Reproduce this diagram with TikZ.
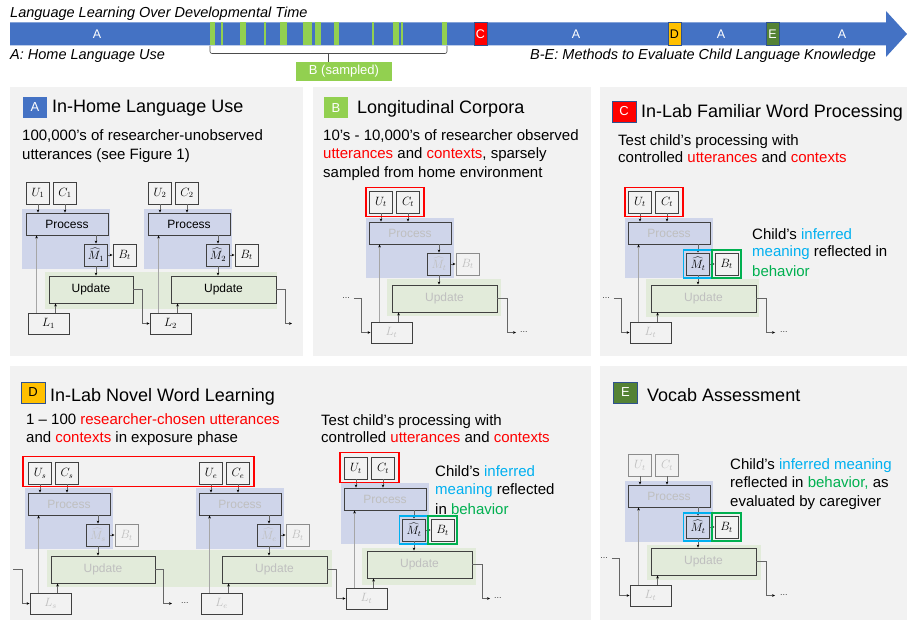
\documentclass[tikz,border=0pt]{standalone}
\usepackage{fontspec}
\setmainfont{Liberation Sans}
\usetikzlibrary{arrows.meta}
\definecolor{barblue}{HTML}{4472C4}
\definecolor{lgreen}{HTML}{92D050}
\definecolor{dgreen}{HTML}{548235}
\definecolor{orng}{HTML}{FFC000}
\definecolor{panel}{HTML}{F2F2F2}
\definecolor{bluereg}{HTML}{CFD5EA}
\definecolor{greenreg}{HTML}{E2EBDA}
\definecolor{bdr}{HTML}{404040}
\definecolor{fadet}{HTML}{BFBFBF}
\definecolor{fadeb}{HTML}{8C8C8C}
\definecolor{cyanc}{HTML}{00B0F0}
\definecolor{greent}{HTML}{00B050}
\definecolor{redc}{HTML}{FF0000}
\definecolor{badgebdr}{HTML}{2F528F}
\newcommand\core[4]{%
\begin{scope}[shift={#2}]
\node[sbox,ucs] (#1U) at (12,11) {$U_{#3}$};
\node[sbox,ucs] (#1C) at (39,11) {$C_{#3}$};
\node[pbox,ps] (#1P) at (41,42) {Process};
\node[sbox,fill=bluereg,ms] (#1M) at (70,73) {$\widehat{M}_{#3}$};
\node[sbox,bs] (#1B) at (98.5,73) {$B_t$};
\node[ubox,us,#4] (#1Up) at (75.5,107.5) {Update};
\node[lbox,ls] (#1L) at (22.5,141.5) {$L_{#3}$};
\end{scope}
\draw[arr] (#1U) -- (#1U |- #1P.north);
\draw[arr] (#1C) -- (#1C |- #1P.north);
\draw[arr] (#1M |- #1P.south) -- (#1M);
\draw[arr] (#1M) -- (#1B);
\draw[arr] (#1M) -- (#1M |- #1Up.north);
\path ([xshift=9pt]#1L.north west) coordinate (#1la);
\path ([xshift=28pt]#1L.north west) coordinate (#1lb);
\draw[arrl] (#1la) -- (#1la |- #1P.south);
\draw[arr] (#1lb) -- (#1lb |- #1Up.south);
}
\newcommand\presetdark{\tikzset{ucs/.style={},ps/.style={},ms/.style={},bs/.style={},us/.style={},ls/.style={}}}
\newcommand\presetfade{\tikzset{ucs/.style={},ps/.style={text=fadet},ms/.style={text=fadet},bs/.style={text=fadet,draw=fadeb},us/.style={text=fadet},ls/.style={text=fadet}}}
\newcommand\presettest{\tikzset{ucs/.style={},ps/.style={text=fadet},ms/.style={},bs/.style={},us/.style={text=fadet},ls/.style={text=fadet}}}
\newcommand\presetvocab{\tikzset{ucs/.style={text=fadet,draw=fadeb},ps/.style={text=fadet},ms/.style={},bs/.style={},us/.style={text=fadet},ls/.style={text=fadet}}}
\begin{document}
\begin{tikzpicture}[x=1pt,y=-1pt,
  sbox/.style={draw=bdr,line width=0.9pt,minimum width=23pt,minimum height=22pt,inner sep=0pt,font=\fontsize{12}{14}\selectfont},
  pbox/.style={draw=bdr,line width=0.9pt,fill=bluereg,minimum width=82pt,minimum height=22pt,inner sep=0pt,font=\fontsize{12}{14}\selectfont},
  ubox/.style={draw=bdr,line width=0.9pt,fill=greenreg,minimum width=105pt,minimum height=27pt,inner sep=0pt,font=\fontsize{12}{14}\selectfont},
  lbox/.style={draw=bdr,line width=0.9pt,minimum width=41pt,minimum height=21pt,inner sep=0pt,font=\fontsize{12}{14}\selectfont},
  arr/.style={draw=black!60,line width=0.5pt,-{Stealth[length=3pt,width=2.6pt,black]}},
  arrl/.style={arr,draw=black!35},
  badge/.style={minimum width=24pt,minimum height=21pt,inner sep=0pt,font=\fontsize{13}{15}\selectfont},
  ttl/.style={anchor=base west,inner sep=0pt,font=\fontsize{18}{21}\selectfont},
  body/.style={anchor=base west,inner sep=0pt,font=\fontsize{15}{18}\selectfont},
  toptxt/.style={anchor=base west,inner sep=0pt,font=\fontsize{14.5}{16}\selectfont\itshape},
  barlbl/.style={inner sep=0pt,text=white,font=\fontsize{12.5}{14}\selectfont},
  stripe/.style={fill=lgreen},
  dots/.style={inner sep=0pt,font=\fontsize{9}{10}\selectfont,text=black!75},
  redo/.style={draw=redc,line width=1.2pt},
  cyo/.style={draw=cyanc,line width=1.3pt},
  gro/.style={draw=greent,line width=1.3pt}]
\useasboundingbox (0,0) rectangle (907,620);
\clip (0,0) rectangle (907,620);
\fill[white] (0,0) rectangle (907,620);
% ---------- timeline ----------
\node[toptxt] (ttitle) at (10,17.3) {Language Learning Over Developmental Time};
\fill[barblue] (10,22.5) -- (886,22.5) -- (886,11) -- (907,34) -- (886,57) -- (886,45.5) -- (10,45.5) -- cycle;
\foreach \a/\b in {210/215,221/223,240/246,264/266,280/287,303/312,315/321,334/339,372/374,393/399,401/403,442/447}
  \fill[stripe] (\a,22.5) rectangle (\b,45.5);
\node[draw=badgebdr,line width=0.4pt,fill=redc,minimum width=13pt,minimum height=23pt,inner sep=0pt,text=white,font=\fontsize{12.5}{14}\selectfont] (tC) at (480.5,34) {C};
\node[draw=badgebdr,line width=0.4pt,fill=orng,minimum width=13pt,minimum height=23pt,inner sep=0pt,font=\fontsize{12.5}{14}\selectfont] (tD) at (674.5,34) {D};
\node[draw=badgebdr,line width=0.4pt,fill=dgreen,minimum width=13pt,minimum height=23pt,inner sep=0pt,text=white,font=\fontsize{12.5}{14}\selectfont] (tE) at (772.5,34) {E};
\node[barlbl] (tA1) at (97,34) {A};
\node[barlbl] (tA2) at (576,34) {A};
\node[barlbl] (tA3) at (721,34) {A};
\node[barlbl] (tA4) at (842,34) {A};
\node[toptxt] (tAl) at (10,60) {A: Home Language Use};
\node[toptxt] (tBE) at (530,60) {B-E: Methods to Evaluate Child Language Knowledge};
\node[fill=lgreen,minimum width=96pt,minimum height=19pt,inner sep=0pt,text=white,font=\fontsize{13}{15}\selectfont] (bsamp) at (344,71.5) {B (sampled)};
\draw[black!70,line width=0.6pt,rounded corners=2pt] (210,46) -- (210,53.5) -- (447,53.5) -- (447,46);
\coordinate (brmid) at (328,53.5);
\draw[black!70,line width=0.6pt] (brmid) -- (brmid |- bsamp.north);
% ---------- panels ----------
\fill[panel] (10,87) rectangle (303,356);
\fill[panel] (313,87) rectangle (591,356);
\fill[panel] (600,87) rectangle (907,356);
\fill[panel] (10,366) rectangle (591,620);
\fill[panel] (600,366) rectangle (907,620);
% ---------- regions ----------
\fill[bluereg] (22,209) rectangle (110,269);
\fill[bluereg] (144,209) rectangle (232,269);
\fill[greenreg] (45,272) rectangle (277,309);
\fill[bluereg] (366,218) rectangle (454,278);
\fill[greenreg] (387,279) rectangle (501,316);
\fill[bluereg] (625,218) rectangle (713,278);
\fill[greenreg] (646,279) rectangle (759,317);
\fill[bluereg] (25,488) rectangle (113,549);
\fill[bluereg] (196,488) rectangle (284,549);
\fill[greenreg] (47,550) rectangle (332,587);
\fill[bluereg] (341,483) rectangle (429,544);
\fill[greenreg] (362,548) rectangle (476,585);
\fill[bluereg] (625,481) rectangle (713,542);
\fill[greenreg] (647,545) rectangle (761,580);
% ---------- panel A ----------
\node[badge,fill=barblue,text=white] (aBadge) at (35,107.5) {A};
\node[ttl] (aTitle) at (52,112.5) {In-Home Language Use};
\node[body] (aT1) at (22,141) {100,000’s of researcher-unobserved};
\node[body] (aT2) at (22,160) {utterances (see Figure 1)};
\presetdark
\core{a1}{(26,182)}{1}{minimum width=84pt,xshift=-10.5pt}
\core{a2}{(148,182)}{2}{}
\draw[arr] (a1Up.east) -- ++(9,0) |- (a2L.west);
\coordinate (a2out) at (292,323.5);
\draw[arr] (a2Up.east) -- ++(9,0) |- (a2out);
% ---------- panel B ----------
\node[badge,fill=lgreen,text=white] (bBadge) at (336,108) {B};
\node[ttl] (bTitle) at (357,114) {Longitudinal Corpora};
\node[body] (bT1) at (323,141) {10’s - 10,000’s of researcher observed};
\node[body] (bT2) at (323,158.5) {\textcolor{redc}{utterances} and \textcolor{redc}{contexts}, sparsely};
\node[body] (bT3) at (323,177.5) {sampled from home environment};
\presetfade
\core{b}{(369,191)}{t}{}
\draw[redo] ([shift={(-3pt,3pt)}]bU.north west) rectangle ([shift={(4pt,-3pt)}]bC.south east);
\node[dots] (bdin) at (346,298) {...};
\draw[arr] ([xshift=4pt]bdin.east) -- ++(7,0) |- (bL.west);
\coordinate (bout) at (516,332.5);
\draw[arr] (bUp.east) -- ++(10,0) |- (bout);
\node[dots,anchor=west] (bdout) at (520,332.5) {...};
% ---------- panel C ----------
\node[badge,fill=redc,text=white,draw=badgebdr,line width=0.6pt] (cBadge) at (624,111.5) {C};
\node[ttl] (cTitle) at (641,118) {In-Lab Familiar Word Processing};
\node[body] (cT1) at (618,145.5) {Test child’s processing with};
\node[body] (cT2) at (618,163) {controlled \textcolor{redc}{utterances} and \textcolor{redc}{contexts}};
\presettest
\core{c}{(628,191)}{t}{}
\draw[redo] ([shift={(-3pt,3pt)}]cU.north west) rectangle ([shift={(4pt,-3pt)}]cC.south east);
\draw[cyo] ([shift={(-2.5pt,2.5pt)}]cM.north west) rectangle ([shift={(2.5pt,-2.5pt)}]cM.south east);
\draw[gro] ([shift={(-2.5pt,2.5pt)}]cB.north west) rectangle ([shift={(2.5pt,-2.5pt)}]cB.south east);
\node[body] (cS1) at (752,240) {Child’s \textcolor{cyanc}{inferred}};
\node[body] (cS2) at (752,257) {\textcolor{cyanc}{meaning} reflected in};
\node[body] (cS3) at (752,276.5) {\textcolor{greent}{behavior}};
\node[dots] (cdin) at (606,298) {...};
\draw[arr] ([xshift=4pt]cdin.east) -- ++(7,0) |- (cL.west);
\coordinate (cout) at (775,332.5);
\draw[arr] (cUp.east) -- ++(10,0) |- (cout);
\node[dots,anchor=west] (cdout) at (780,332.5) {...};
% ---------- panel D ----------
\node[badge,fill=orng,draw=badgebdr,line width=0.6pt] (dBadge) at (33,392.5) {D};
\node[ttl] (dTitle) at (50,401.5) {In-Lab Novel Word Learning};
\node[body] (dT1) at (26,424.3) {1 – 100 \textcolor{redc}{researcher-chosen utterances}};
\node[body] (dT2) at (26,442.5) {and \textcolor{redc}{contexts} in exposure phase};
\presetfade
\core{d1}{(28,462)}{s}{minimum width=104pt,xshift=-0.5pt}
\core{d2}{(199,462)}{e}{}
\draw[redo] ([shift={(-5pt,5pt)}]d1U.north west) rectangle ([shift={(4pt,-2pt)}]d2C.south east);
\coordinate (dIn) at (13,569.5);
\draw[arr] (dIn) -- ++(9,0) |- (d1L.west);
\coordinate (d1out) at (172,603.5);
\draw[arr] (d1Up.east) -- ++(8,0) |- (d1out);
\node[dots,anchor=west] (d1dout) at (181,603.5) {...};
\node[body] (dtT1) at (321,425) {Test child’s processing with};
\node[body] (dtT2) at (321,442.5) {controlled \textcolor{redc}{utterances} and \textcolor{redc}{contexts}};
\presettest
\core{dt}{(344,457)}{t}{}
\draw[arr] (d2Up.east) -- ++(9,0) |- (dtL.west);
\draw[redo] ([shift={(-4pt,4pt)}]dtU.north west) rectangle ([shift={(4pt,-3pt)}]dtC.south east);
\draw[cyo] ([shift={(-2.5pt,2.5pt)}]dtM.north west) rectangle ([shift={(2.5pt,-2.5pt)}]dtM.south east);
\draw[gro] ([shift={(-2.5pt,2.5pt)}]dtB.north west) rectangle ([shift={(2.5pt,-2.5pt)}]dtB.south east);
\node[body] (dtS1) at (435,476) {Child’s \textcolor{cyanc}{inferred}};
\node[body] (dtS2) at (435,494) {\textcolor{cyanc}{meaning} reflected};
\node[body] (dtS3) at (435,514) {in \textcolor{greent}{behavior}};
\coordinate (dtout) at (490,598.5);
\draw[arr] (dtUp.east) -- ++(10,0) |- (dtout);
\node[dots,anchor=west] (dtdout) at (494,598.5) {...};
% ---------- panel E ----------
\node[badge,fill=dgreen,text=white,draw=badgebdr,line width=0.6pt] (eBadge) at (625.5,392.5) {E};
\node[ttl] (eTitle) at (647,401) {Vocab Assessment};
\node[body] (eS1) at (730,469) {Child’s \textcolor{cyanc}{inferred meaning}};
\node[body] (eS2) at (730,487.3) {reflected in \textcolor{greent}{behavior,} as};
\node[body] (eS3) at (730,506.7) {evaluated by caregiver};
\presetvocab
\core{e}{(628,454)}{t}{}
\draw[cyo] ([shift={(-2.5pt,2.5pt)}]eM.north west) rectangle ([shift={(2.5pt,-2.5pt)}]eM.south east);
\draw[gro] ([shift={(-2.5pt,2.5pt)}]eB.north west) rectangle ([shift={(2.5pt,-2.5pt)}]eB.south east);
\node[dots] (edin) at (604,558) {...};
\draw[arr] ([xshift=4pt]edin.east) -- ++(7,0) |- (eL.west);
\coordinate (eout) at (775,595.5);
\draw[arr] (eUp.east) -- ++(10,0) |- (eout);
\node[dots,anchor=west] (edout) at (780,595.5) {...};
\end{tikzpicture}
\end{document}
